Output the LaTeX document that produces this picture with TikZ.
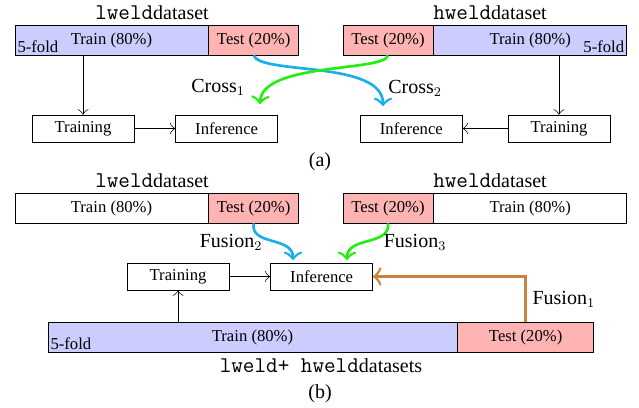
\documentclass[tikz,border=0pt]{standalone}
\usepackage{fontspec}
\setmainfont{Liberation Serif}
\usetikzlibrary{positioning,arrows.meta}
\definecolor{foldBlue}{HTML}{CCCCFF}
\definecolor{testRed}{HTML}{FFB3B3}
\definecolor{crossCyan}{HTML}{1AAEEC}
\definecolor{crossGreen}{HTML}{22EE11}
\definecolor{fusionBrown}{HTML}{C8843C}
\newcommand{\dset}[1]{{\fontsize{13.5}{14}\ttfamily #1}}

\begin{document}
\begin{tikzpicture}[x=0.6pt, y=-0.6pt,
  >={Classical TikZ Rightarrow[width=6.5pt, length=3.2pt]},
  bar/.style={draw, inner sep=0pt, minimum height=18pt},
  trainbar/.style={bar, fill=foldBlue, minimum width=115.8pt},
  plainbar/.style={bar, fill=white, minimum width=115.8pt},
  testbar/.style={bar, fill=testRed, minimum width=54pt},
  stepbox/.style={draw, fill=white, minimum width=61.2pt, minimum height=16.2pt, inner sep=0pt},
  title/.style={font=\large, inner sep=0pt, anchor=base},
  fold/.style={inner sep=1.5pt},
  flow/.style={-{Classical TikZ Rightarrow[width=11pt, length=5pt]}, line width=1.6pt}]
\useasboundingbox (0,0) rectangle (639,407);

% (a) cross-dataset
\node[trainbar] (ltrainA) at (111.5,40) {Train (80\%)};
\node[testbar, right=0pt of ltrainA] (ltestA) {Test (20\%)};
\node[testbar] (htestA) at (388,40) {Test (20\%)};
\node[trainbar, right=0pt of htestA] (htrainA) {Train (80\%)};
\node[title] (ltitleA) at (152,19.5) {\dset{lweld}dataset};
\node[title] (htitleA) at (490,19.5) {\dset{hweld}dataset};
\node[fold, anchor=south west] (lfoldA) at (ltrainA.south west) {5-fold};
\node[fold, anchor=south east] (hfoldA) at (htrainA.south east) {5-fold};

\node[stepbox] (ltraining) at (83,128.5) {Training};
\node[stepbox, right=24.6pt of ltraining] (linfA) {Inference};
\node[stepbox] (rtraining) at (559,128.5) {Training};
\node[stepbox, left=27pt of rtraining] (rinfA) {Inference};

\draw[->] (ltrainA.south -| ltraining.north) -- (ltraining.north);
\draw[->] (htrainA.south -| rtraining.north) -- (rtraining.north);
\draw[->] (ltraining) -- (linfA);
\draw[->] (rtraining) -- (rinfA);

\coordinate (crossOne) at (260,104);
\coordinate (crossTwo) at (383,106);
\draw[flow, crossCyan] (ltestA.south) .. controls (260,75) and (383,60) .. (crossTwo);
\draw[flow, crossGreen] (htestA.south) .. controls (385,72) and (262,62) .. (crossOne);
\node[font=\large] (cross1) at (218,87) {Cross$_1$};
\node[font=\large] (cross2) at (415,88) {Cross$_2$};

\node[title] (capA) at (320,166) {(a)};

% (b) fusion
\node[plainbar] (ltrainB) at (111.5,208) {Train (80\%)};
\node[testbar, right=0pt of ltrainB] (ltestB) {Test (20\%)};
\node[testbar] (htestB) at (388,208) {Test (20\%)};
\node[plainbar, right=0pt of htestB] (htrainB) {Train (80\%)};
\node[title] (ltitleB) at (152,187.5) {\dset{lweld}dataset};
\node[title] (htitleB) at (490,187.5) {\dset{hweld}dataset};

\node[stepbox] (btraining) at (178,276.5) {Training};
\node[stepbox, right=24.6pt of btraining] (binf) {Inference};

\node[bar, fill=foldBlue, minimum width=245.4pt] (ctrain) at (252.5,337.5) {Train (80\%)};
\node[bar, fill=testRed, minimum width=81.6pt, right=0pt of ctrain] (ctest) {Test (20\%)};
\node[fold, anchor=south west] (cfold) at (ctrain.south west) {5-fold};
\node[title] (ctitle) at (321,372) {\dset{lweld+ hweld}datasets};

\draw[->] (ctrain.north -| btraining.south) -- (btraining.south);
\draw[->] (btraining) -- (binf);

\coordinate (fusTwo) at (293,260);
\coordinate (fusThree) at (347,260);
\draw[flow, crossCyan] (ltestB.south) .. controls (250,246) and (293,236) .. (fusTwo);
\draw[flow, crossGreen] (htestB.south) .. controls (391,246) and (347,236) .. (fusThree);
\node[font=\large] (fusion2) at (231,242) {Fusion$_2$};
\node[font=\large] (fusion3) at (415,242) {Fusion$_3$};
\draw[flow, fusionBrown] (ctest.north) |- (binf.east) node[pos=0.25, right, font=\large, text=black] (fusion1) {Fusion$_1$};

\node[title] (capB) at (320,398) {(b)};
\end{tikzpicture}
\end{document}
